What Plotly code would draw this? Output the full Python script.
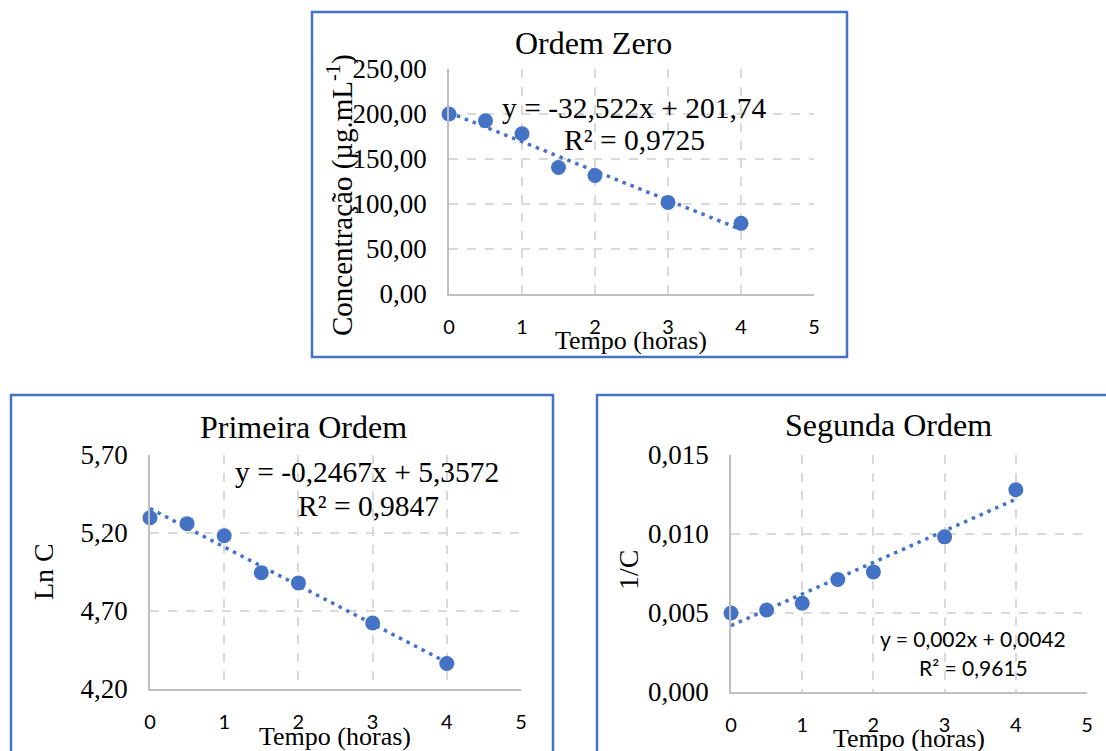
import plotly.graph_objects as go

# ---------------- data ----------------
tempo = [0, 0.5, 1, 1.5, 2, 3, 4]
conc = [200.0, 192.5, 178.0, 140.5, 131.6, 101.8, 78.5]          # Ordem Zero
ln_c = [5.298, 5.260, 5.182, 4.945, 4.880, 4.623, 4.363]          # Primeira Ordem
inv_c = [0.00500, 0.00519, 0.00562, 0.00712, 0.00760, 0.00982, 0.01280]  # Segunda Ordem

trend_x = [0, 4]
fit_zero = [-32.522, 201.74]
fit_first = [-0.2467, 5.3572]
fit_second = [0.002, 0.0042]

titles = ["Ordem Zero", "Primeira Ordem", "Segunda Ordem"]
eq_texts = [["y = -32,522x + 201,74", "R² = 0,9725"],
            ["y = -0,2467x + 5,3572", "R² = 0,9847"],
            ["y = 0,002x + 0,0042", "R² = 0,9615"]]
ytitles = ["Concentração (µg.mL<sup>-1</sup>)", "Ln C", "1/C"]
xtitle = "Tempo (horas)"

W, H = 1106, 751
BLUE = "#4472C4"
SERIF = "Liberation Serif, Times New Roman, serif"
SANS = "Lato, Carlito, Calibri, sans-serif"


def fx(p):
    return p / W


def fy(p):
    return 1 - p / H


fig = go.Figure()

panels = [
    dict(x=tempo, y=conc, fit=fit_zero, ax="", dom=(449, 814, 69, 294), yr=[0, 250], dt=50, fmt=".2f"),
    dict(x=tempo, y=ln_c, fit=fit_first, ax="2", dom=(150, 521, 455, 689), yr=[4.2, 5.7], dt=0.5, fmt=".2f"),
    dict(x=tempo, y=inv_c, fit=fit_second, ax="3", dom=(731, 1087, 455, 692), yr=[0, 0.015], dt=0.005, fmt=".3f"),
]

for p in panels:
    xa = "x" + p["ax"]
    ya = "y" + p["ax"]
    ty = [p["fit"][0] * t + p["fit"][1] for t in trend_x]
    fig.add_trace(go.Scatter(x=trend_x, y=ty, mode="lines", xaxis=xa, yaxis=ya,
                             line=dict(color=BLUE, width=3.5, dash="3.5px,5px"),
                             cliponaxis=False, showlegend=False, hoverinfo="skip"))
    fig.add_trace(go.Scatter(x=p["x"], y=p["y"], mode="markers", xaxis=xa, yaxis=ya,
                             marker=dict(color=BLUE, size=15, line=dict(width=0)),
                             cliponaxis=False, showlegend=False))
    x0, x1, y0, y1 = p["dom"]
    common = dict(showgrid=True, gridcolor="#D9D9D9", gridwidth=1.5, griddash="dash",
                  zeroline=False, showline=True, linecolor="#BFBFBF", linewidth=1.5,
                  ticks="", automargin=False)
    fig.layout["xaxis" + p["ax"]] = dict(
        domain=[fx(x0), fx(x1)], range=[0, 5], dtick=1, tick0=0, anchor=ya,
        tickfont=dict(family=SANS, size=20, color="#000000"), ticklabelstandoff=14, **common)
    fig.layout["yaxis" + p["ax"]] = dict(
        domain=[fy(y1), fy(y0)], range=p["yr"], dtick=p["dt"], tick0=p["yr"][0], anchor=xa,
        tickformat=p["fmt"], tickfont=dict(family=SERIF, size=27, color="#000000"),
        ticklabelstandoff=15, **common)

annotations = []
# titles
for (cx, cy), t in zip([(593, 43), (303, 427), (888, 425)], titles):
    annotations.append(dict(x=fx(cx), y=fy(cy), xref="paper", yref="paper", text=t,
                            showarrow=False, xanchor="center", yanchor="middle",
                            font=dict(family=SERIF, size=32, color="#000000")))
# x axis titles
for cx, cy in [(631, 340), (335, 736), (909, 738)]:
    annotations.append(dict(x=fx(cx), y=fy(cy), xref="paper", yref="paper", text=xtitle,
                            showarrow=False, xanchor="center", yanchor="middle",
                            font=dict(family=SERIF, size=26, color="#000000")))
# y axis titles
for (cx, cy), t, sz in zip([(340, 195), (43, 572), (628, 570)], ytitles, [29, 28, 28]):
    annotations.append(dict(x=fx(cx), y=fy(cy), xref="paper", yref="paper", text=t,
                            showarrow=False, xanchor="center", yanchor="middle", textangle=-90,
                            font=dict(family=SERIF, size=sz, color="#000000")))
# equations
eq_pos = [((634, 108), (634, 140), SERIF, 29.5),
          ((367, 472), (368, 506), SERIF, 29.5),
          ((973, 638), (973, 667), SANS, 21)]
for (p1, p2, fam, sz), (l1, l2) in zip(eq_pos, eq_texts):
    for (cx, cy), t in [(p1, l1), (p2, l2)]:
        annotations.append(dict(x=fx(cx), y=fy(cy), xref="paper", yref="paper", text=t,
                                showarrow=False, xanchor="center", yanchor="middle",
                                font=dict(family=fam, size=sz, color="#000000")))

shapes = []
for (a, b, c, d) in [(312, 12, 847, 357), (11, 395, 553, 775), (597, 395, 1130, 775)]:
    shapes.append(dict(type="rect", xref="paper", yref="paper",
                       x0=fx(a), x1=fx(c), y0=fy(d), y1=fy(b),
                       line=dict(color=BLUE, width=2.5), fillcolor="rgba(0,0,0,0)", layer="below"))

fig.update_layout(width=W, height=H,
                  margin=dict(l=0, r=0, t=0, b=0, pad=0, autoexpand=False),
                  paper_bgcolor="white", plot_bgcolor="white", separators=",.",
                  annotations=annotations, shapes=shapes, showlegend=False)

fig.write_html("out.html")
